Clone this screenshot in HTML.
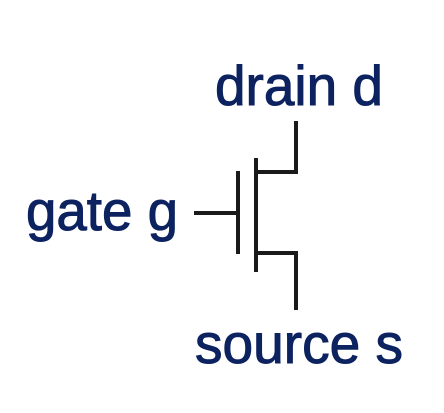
<!DOCTYPE html>
<html><head><style>
body{margin:0;width:444px;height:408px;background:#fff;overflow:hidden}
</style></head><body>
<svg width="444" height="408" xmlns="http://www.w3.org/2000/svg">
<g font-family="Liberation Sans, Arial, sans-serif" font-size="56" fill="#0d2360" stroke="#0d2360" stroke-width="1">
<text x="215" y="105" textLength="168" lengthAdjust="spacingAndGlyphs">drain d</text>
<text x="26" y="230" textLength="152" lengthAdjust="spacingAndGlyphs">gate g</text>
<text x="195" y="363" textLength="208" lengthAdjust="spacingAndGlyphs">source s</text>
</g>
<g stroke="#1a1a1a" stroke-width="4" fill="none">
<line x1="194" y1="213" x2="238" y2="213"/>
<line x1="238" y1="171" x2="238" y2="254"/>
<line x1="256" y1="158" x2="256" y2="272"/>
<polyline points="256,172 296,172 296,121"/>
<polyline points="256,253 296,253 296,310"/>
</g>
</svg>
</body></html>
